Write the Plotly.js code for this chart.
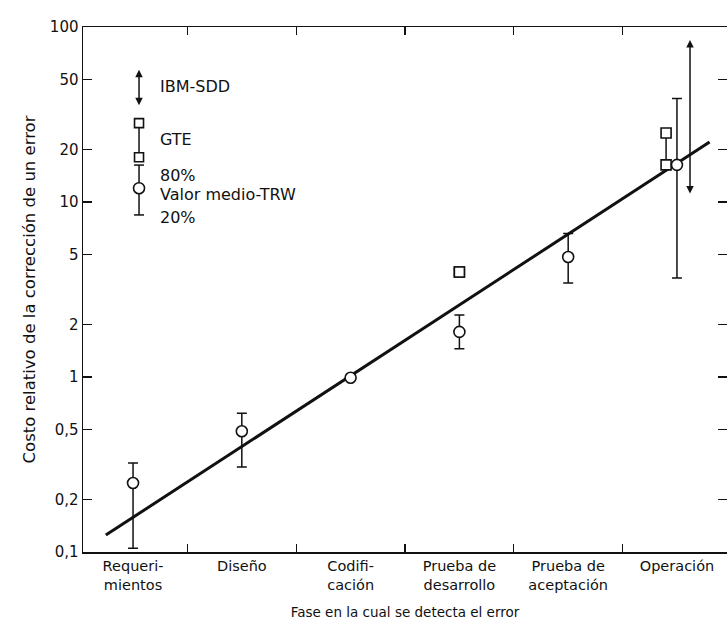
<!DOCTYPE html>
<html>
<head>
<meta charset="utf-8">
<script src="https://cdn.plot.ly/plotly-3.0.1.min.js"></script>
<style>html,body{margin:0;padding:0;background:#fff;}#chart{width:727px;height:622px;}</style>
</head>
<body>
<div id="chart"></div>
<script>
// ---- data ----
const phases = ['Requeri-<br>mientos', 'Diseño', 'Codifi-<br>cación', 'Prueba de<br>desarrollo', 'Prueba de<br>aceptación', 'Operación'];
// TRW: median value and 80% / 20% bounds (null = no bar)
const trwMedian = [0.248, 0.49, 0.99, 1.81, 4.85, 16.3];
const trwHigh80 = [0.323, 0.62, null, 2.26, 6.6, 39];
const trwLow20  = [0.105, 0.306, null, 1.45, 3.44, 3.68];
// GTE: phase index, low and high values
const gtePhase = [3, 5];
const gteLow   = [3.98, 16.3];
const gteHigh  = [3.98, 24.8];
// IBM-SDD range at Operación
const ibmPhase = 5;
const ibmLow = 11.2;
const ibmHigh = 86;
// fitted trend line (end points)
const trendX = [-0.25, 5.3];
const trendY = [0.125, 22.0];
// y tick labels
const yTickVals = [0.1, 0.2, 0.5, 1, 2, 5, 10, 20, 50, 100];
const yTickText = ['0,1', '0,2', '0,5', '1', '2', '5', '10', '20', '50', '100'];

// ---- styling ----
const FONT = 'DejaVu Sans, sans-serif';
const INK = '#111';
const gteShift = {3: 0, 5: -0.1};
const ibmShift = 0.12;

const traces = [];
traces.push({
  x: trendX, y: trendY, mode: 'lines', type: 'scatter',
  line: {color: INK, width: 3}, hoverinfo: 'skip', showlegend: false
});
gtePhase.forEach((p, i) => {
  const xv = p + gteShift[p];
  traces.push({
    x: [xv, xv], y: [gteLow[i], gteHigh[i]], mode: 'lines+markers', type: 'scatter',
    line: {color: INK, width: 1.5},
    marker: {symbol: 'square', size: 10, color: '#fff', line: {color: INK, width: 1.6}},
    showlegend: false, cliponaxis: false
  });
});
const idx = trwMedian.map((_, i) => i);
traces.push({
  x: idx, y: trwMedian, mode: 'markers', type: 'scatter',
  marker: {symbol: 'circle', size: 11, color: '#fff', line: {color: INK, width: 1.6}},
  error_y: {
    type: 'data', symmetric: false,
    array: trwMedian.map((v, i) => trwHigh80[i] == null ? null : trwHigh80[i] - v),
    arrayminus: trwMedian.map((v, i) => trwLow20[i] == null ? null : v - trwLow20[i]),
    color: INK, thickness: 1.5, width: 5
  },
  showlegend: false, cliponaxis: false
});

// legend glyphs (paper coordinates)
const LX = 0.087;
const shapes = [
  {type: 'line', xref: 'paper', yref: 'paper', x0: LX, x1: LX, y0: 0.752, y1: 0.817, line: {color: INK, width: 1.5}},
  {type: 'rect', xref: 'paper', yref: 'paper', xsizemode: 'pixel', ysizemode: 'pixel', xanchor: LX, yanchor: 0.817, x0: -4.5, x1: 4.5, y0: -4.5, y1: 4.5, fillcolor: '#fff', line: {color: INK, width: 1.6}},
  {type: 'rect', xref: 'paper', yref: 'paper', xsizemode: 'pixel', ysizemode: 'pixel', xanchor: LX, yanchor: 0.752, x0: -4.5, x1: 4.5, y0: -4.5, y1: 4.5, fillcolor: '#fff', line: {color: INK, width: 1.6}},
  {type: 'line', xref: 'paper', yref: 'paper', x0: LX, x1: LX, y0: 0.642, y1: 0.737, line: {color: INK, width: 1.5}},
  {type: 'line', xref: 'paper', yref: 'paper', xsizemode: 'pixel', xanchor: LX, x0: -5, x1: 5, y0: 0.737, y1: 0.737, line: {color: INK, width: 1.5}},
  {type: 'line', xref: 'paper', yref: 'paper', xsizemode: 'pixel', xanchor: LX, x0: -5, x1: 5, y0: 0.642, y1: 0.642, line: {color: INK, width: 1.5}},
  {type: 'circle', xref: 'paper', yref: 'paper', xsizemode: 'pixel', ysizemode: 'pixel', xanchor: LX, yanchor: 0.693, x0: -5.5, x1: 5.5, y0: -5.5, y1: 5.5, fillcolor: '#fff', line: {color: INK, width: 1.6}}
];

const txt = (t, y) => ({xref: 'paper', yref: 'paper', x: 0.1165, y: y, text: t, showarrow: false, xanchor: 'left', yanchor: 'middle', font: {family: FONT, size: 16, color: INK}});
const annotations = [
  // legend IBM arrow
  {xref: 'paper', yref: 'paper', x: LX, y: 0.851, ax: 0, ay: -37, axref: 'pixel', ayref: 'pixel', showarrow: true, arrowhead: 2, startarrowhead: 2, arrowside: 'end+start', arrowsize: 1, startarrowsize: 1, arrowwidth: 1.5, arrowcolor: INK, text: ''},
  txt('IBM-SDD', 0.886),
  txt('GTE', 0.785),
  txt('80%', 0.718),
  txt('Valor medio-TRW', 0.680),
  txt('20%', 0.638),
  // IBM-SDD range in data
  {xref: 'x', yref: 'y', x: ibmPhase + ibmShift, y: Math.log10(ibmLow), axref: 'x', ayref: 'y', ax: ibmPhase + ibmShift, ay: Math.log10(ibmHigh),
   showarrow: true, arrowhead: 2, startarrowhead: 2, arrowside: 'end+start', arrowsize: 1, startarrowsize: 1, arrowwidth: 1.5, arrowcolor: INK, text: ''}
];

const layout = {
  width: 727, height: 622,
  margin: {l: 83, r: 0, t: 27, b: 70},
  paper_bgcolor: '#fff', plot_bgcolor: '#fff',
  font: {family: FONT, size: 15, color: INK},
  showlegend: false,
  xaxis: {
    range: [-0.46, 5.46], showgrid: false, zeroline: false,
    tickmode: 'array', tickvals: idx, ticktext: phases, ticks: '',
    showline: true, linecolor: INK, linewidth: 1.5, mirror: 'ticks',
    minor: {tickmode: 'array', tickvals: [0.5, 1.5, 2.5, 3.5, 4.5], ticks: 'inside', ticklen: 8, tickcolor: INK, tickwidth: 1.2},
    tickfont: {family: FONT, size: 14.5, color: INK},
    title: {text: 'Fase en la cual se detecta el error', font: {family: FONT, size: 13.5, color: INK}, standoff: 16},
    automargin: false,
    fixedrange: true
  },
  yaxis: {
    type: 'log', range: [-1, 2], showgrid: false, zeroline: false,
    tickmode: 'array', tickvals: yTickVals, ticktext: yTickText,
    ticks: 'inside', ticklen: 9, tickwidth: 1.2, tickcolor: INK,
    showline: true, linecolor: INK, linewidth: 1.5, mirror: 'ticks',
    tickfont: {family: FONT, size: 15, color: INK},
    title: {text: 'Costo relativo de la corrección de un error', font: {family: FONT, size: 16.5, color: INK}, standoff: 10},
    automargin: false,
    fixedrange: true
  },
  shapes: shapes,
  annotations: annotations
};

Plotly.newPlot('chart', traces, layout, {staticPlot: true, displayModeBar: false});
</script>
</body>
</html>
